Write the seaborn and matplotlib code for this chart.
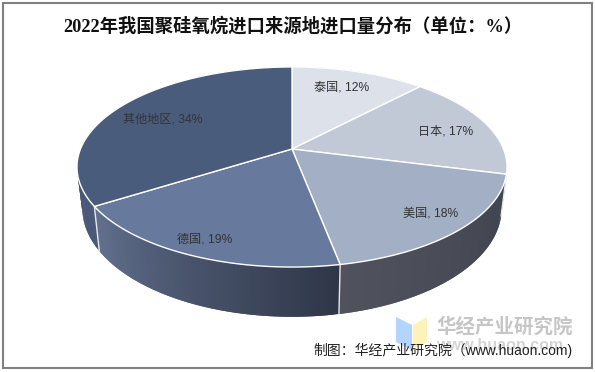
import numpy as np
import seaborn as sns
import matplotlib.pyplot as plt
from matplotlib.patches import Rectangle, Polygon

# 数据
categories = ['泰国', '日本', '美国', '德国', '其他地区']
values = [12, 17, 18, 19, 34]
title = '2022年我国聚硅氧烷进口来源地进口量分布（单位：%）'
source = '制图：华经产业研究院（www.huaon.com)'
top_colors = ['#dce1ea', '#c2c9d6', '#a3afc5', '#68799e', '#4a5c7c']
side_from = ['#45484f', '#45484f', '#3f434f', '#2f3648', '#4a5a78']
side_to = ['#45484f', '#45484f', '#50535d', '#62718f', '#3a4964']

sns.set_theme(style='white')
plt.rcParams['font.family'] = ['Liberation Sans', 'Noto Sans CJK SC']

fig = plt.figure(figsize=(5.95, 3.72), dpi=100)
ax = fig.add_axes([0, 0, 1, 1])
ax.set_xlim(0, 595)
ax.set_ylim(372, 0)
ax.axis('off')


# 透视投影：顶面的圆映射到图上
def top_xy(theta):
    u, v = np.sin(theta), np.cos(theta)
    w = 1 + 0.18 * v
    return 292 + 211.5 * u / w, 149 - 96.8 * v / w


# 底面比顶面略窄，且向下偏移
def bottom_xy(theta):
    x, y = top_xy(theta)
    return 292 + 0.975 * (x - 292), 188.8 + 1.084 * (y - 149)


edges = np.radians(np.cumsum([0] + values) * 3.6)

# 侧面：用细条拼出渐变，每条压住下一条一点，避免接缝
for i in range(len(values)):
    n = max(int(np.degrees(edges[i + 1] - edges[i])), 2)
    grad = sns.blend_palette([side_from[i], side_to[i]], n)
    th = np.linspace(edges[i], edges[i + 1], n + 1)
    for j in range(n):
        pair = np.linspace(th[j], th[min(j + 2, n)], 5)
        tx, ty = top_xy(pair)
        bx, by = bottom_xy(pair)
        xs = np.r_[tx, bx[::-1]]
        ys = np.r_[ty, by[::-1]]
        ax.fill(xs, ys, color=grad[j], lw=0, zorder=2)

# 侧面之间的白线
for e in edges[2:5]:
    tx, ty = top_xy(e)
    bx, by = bottom_xy(e)
    ax.plot([tx, bx], [ty, by], color='#e8e8e8', lw=1.0, zorder=3)

# 顶面
for i in range(len(values)):
    th = np.linspace(edges[i], edges[i + 1], 120)
    x, y = top_xy(th)
    xs = np.r_[292, x]
    ys = np.r_[149, y]
    ax.fill(xs, ys, facecolor=top_colors[i], edgecolor='white', lw=1.0,
            joinstyle='round', zorder=4)

# 水印
ax.add_patch(Polygon([(396, 317), (412, 325), (412, 350), (396, 342)],
                     closed=True, fc='#b3d4fb', ec='none', zorder=1))
ax.add_patch(Polygon([(413, 325), (427, 317), (427, 342), (413, 350)],
                     closed=True, fc='#fdf2b8', ec='none', zorder=1))
ax.text(505, 327, '华经产业研究院', fontsize=14, fontweight='bold', color='#c6c6c6',
        ha='center', va='center', zorder=1)
ax.text(500, 346, 'www.huaon.com', fontsize=11.5, fontweight='bold', color='#d4d4d4',
        ha='center', va='center', zorder=1)

# 数据标签
label_xy = [(342, 87), (446, 131), (431, 214), (205, 240), (163, 119)]
for name, val, (lx, ly) in zip(categories, values, label_xy):
    ax.text(lx, ly, f'{name}, {val}%', fontsize=8.7, color='#333333',
            ha='center', va='center', zorder=5)

# 标题和来源
ax.text(293, 26, title, fontsize=13.2, fontweight='bold', color='#111111',
        family=['Liberation Serif', 'Noto Sans CJK SC'], ha='center', va='center', zorder=5)
ax.text(573, 350, source, fontsize=10, color='#222222', ha='right', va='center', zorder=5)

# 外框
ax.add_patch(Rectangle((2.5, 2.5), 589.5, 365.5, fill=False, ec='#808080', lw=1.5, zorder=6))

fig.savefig('out.png', dpi=100)
